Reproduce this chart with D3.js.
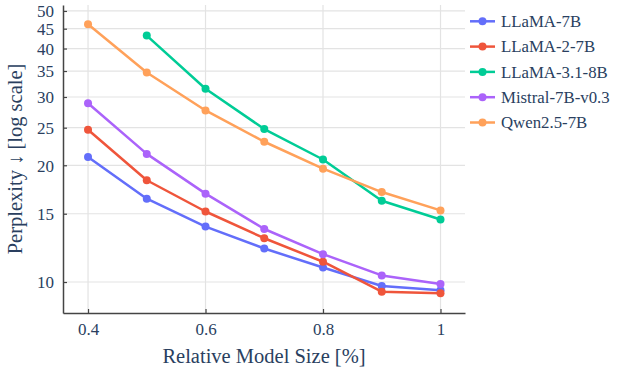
<!DOCTYPE html>
<html><head><meta charset="utf-8">
<script src="https://cdn.jsdelivr.net/npm/d3@7"></script>
<style>body{margin:0;background:#fff}svg{display:block}</style>
</head><body><svg id="c" width="619" height="373"></svg>
<script>
const xValues = [0.4, 0.5, 0.6, 0.7, 0.8, 0.9, 1.0];
const seriesNames = ["LLaMA-7B", "LLaMA-2-7B", "LLaMA-3.1-8B", "Mistral-7B-v0.3", "Qwen2.5-7B"];
const llama7b   = [21.0, 16.4, 13.9, 12.2, 10.9, 9.77, 9.52];
const llama2_7b = [24.7, 18.3, 15.2, 12.97, 11.28, 9.44, 9.35];
const llama31_8b = [null, 43.2, 31.5, 24.8, 20.7, 16.2, 14.5];
const mistral7b = [28.9, 21.4, 16.9, 13.7, 11.8, 10.4, 9.88];
const qwen25_7b = [46.2, 34.7, 27.7, 23.0, 19.6, 17.06, 15.3];
const seriesColors = ["#636efa", "#EF553B", "#00cc96", "#ab63fa", "#FFA15A"];
const xTicks = [0.4, 0.6, 0.8, 1];
const yTicks = [10, 15, 20, 25, 30, 35, 40, 45, 50];
const xTitle = "Relative Model Size [%]";
const yTitle = "Perplexity \u2193 [log scale]";

const allSeries = [llama7b, llama2_7b, llama31_8b, mistral7b, qwen25_7b];
const svg = d3.select("#c");
const L = 63, R = 465, T = 5, B = 313;
const txt = "#2a3f5f";
const FONT = '"Liberation Serif"';

const x = d3.scaleLinear().domain([0.3574, 1.0417]).range([L, R]);
const y = d3.scaleLog().domain([8.32, 51.8]).range([B, T]);

// grid
svg.append("g").selectAll("line").data(xTicks).join("line")
  .attr("x1", d => x(d)).attr("x2", d => x(d)).attr("y1", T).attr("y2", B)
  .attr("stroke", "#e3e3e3").attr("stroke-width", 1.2);
svg.append("g").selectAll("line").data(yTicks).join("line")
  .attr("x1", L).attr("x2", R).attr("y1", d => y(d)).attr("y2", d => y(d))
  .attr("stroke", "#e3e3e3").attr("stroke-width", 1.2);

// axes
const xAxis = d3.axisBottom(x).tickValues(xTicks).tickFormat(d => d === 1 ? "1" : d3.format(".1f")(d)).tickSizeInner(-4).tickSizeOuter(0).tickPadding(10);
const gx = svg.append("g").attr("transform", `translate(0,${B})`).call(xAxis);
const yAxis = d3.axisLeft(y).tickValues(yTicks).tickFormat(d3.format("d")).tickSizeInner(-4).tickSizeOuter(0).tickPadding(9);
const gy = svg.append("g").attr("transform", `translate(${L},0)`).call(yAxis);
[gx, gy].forEach(g => {
  g.style("font-family", FONT);
  g.select(".domain").attr("stroke", "#444").attr("stroke-width", 1.5);
  g.selectAll(".tick line").attr("stroke", "#444").attr("stroke-width", 1.2);
  g.selectAll(".tick text").attr("fill", txt).attr("font-size", 17).style("font-family", FONT);
});
gy.selectAll(".tick text").attr("dy", "0.34em");

// lines
const line = d3.line().defined(d => d[1] != null).x(d => x(d[0])).y(d => y(d[1]));
allSeries.forEach((vals, i) => {
  const pts = xValues.map((xv, j) => [xv, vals[j]]);
  svg.append("path").datum(pts).attr("d", line).attr("fill", "none")
    .attr("stroke", seriesColors[i]).attr("stroke-width", 2.5).attr("stroke-linejoin", "round");
  svg.append("g").selectAll("circle").data(pts.filter(p => p[1] != null)).join("circle")
    .attr("cx", d => x(d[0])).attr("cy", d => y(d[1])).attr("r", 4).attr("fill", seriesColors[i]);
});

// titles
svg.append("text").attr("x", (L + R) / 2).attr("y", 363).attr("text-anchor", "middle")
  .style("font-family", FONT).attr("font-size", 20.5).attr("fill", txt).text(xTitle);
svg.append("text").attr("transform", `translate(22,${(T + B) / 2}) rotate(-90)`).attr("text-anchor", "middle")
  .style("font-family", FONT).attr("font-size", 20.5).attr("fill", txt).text(yTitle);

// legend
const lg = svg.append("g");
seriesNames.forEach((n, i) => {
  const cy = 21.3 + i * 25.3;
  lg.append("line").attr("x1", 470).attr("x2", 495).attr("y1", cy).attr("y2", cy)
    .attr("stroke", seriesColors[i]).attr("stroke-width", 2.5);
  lg.append("circle").attr("cx", 482.5).attr("cy", cy).attr("r", 4).attr("fill", seriesColors[i]);
  lg.append("text").attr("x", 501).attr("y", cy + 5.8).style("font-family", FONT)
    .attr("font-size", 16.8).attr("fill", txt).text(n);
});
</script></body></html>
